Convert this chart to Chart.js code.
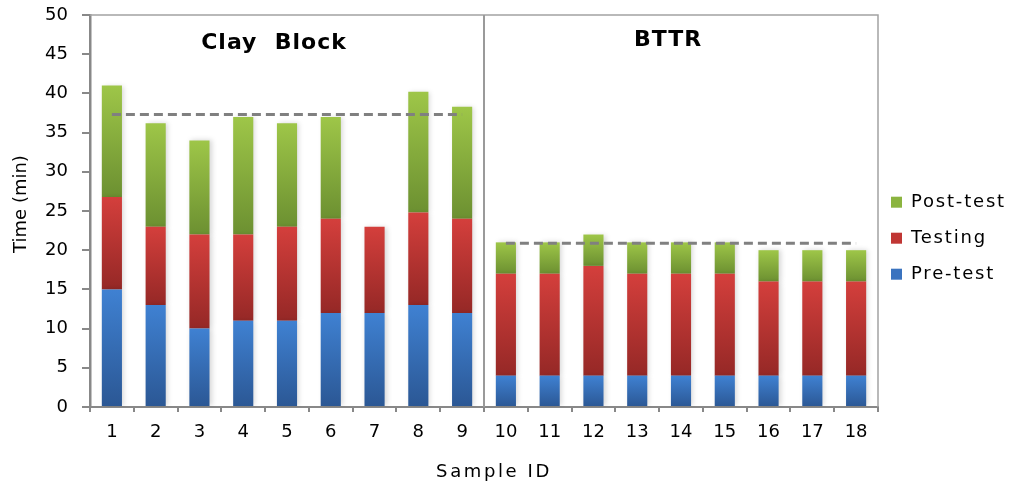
<!DOCTYPE html>
<html>
<head>
<meta charset="utf-8">
<title>Time per sample</title>
<script src="https://cdn.jsdelivr.net/npm/chart.js@4.4.1/dist/chart.umd.min.js"></script>
<style>
  body { margin: 0; background: #fff; }
  canvas { display: block; }
</style>
</head>
<body>
<canvas id="timeChart" width="1013" height="486"></canvas>
<script>
'use strict'

// Samples 1-9 are clay blocks, 10-18 are BTTR
const sampleIds = ['1', '2', '3', '4', '5', '6', '7', '8', '9',
  '10', '11', '12', '13', '14', '15', '16', '17', '18'];
const groupNames = ['Clay  Block', 'BTTR'];
const groupSizes = [9, 9];

// minutes spent in each phase
const preTest = [15, 13, 10, 11, 11, 12, 12, 13, 12, 4, 4, 4, 4, 4, 4, 4, 4, 4];
const testing = [11.8, 10, 12, 11, 12, 12, 11, 11.8, 12, 13, 13, 14, 13, 13, 13, 12, 12, 12];
const postTest = [14.2, 13.2, 12, 15, 13.2, 13, 0, 15.4, 14.3, 4, 4, 4, 4, 4, 4, 4, 4, 4];

// group means of the total time (dashed lines)
const clayMean = [37.3, 37.3, 37.3, 37.3, 37.3, 37.3, 37.3, 37.3, 37.3,
  null, null, null, null, null, null, null, null, null];
const bttrMean = [null, null, null, null, null, null, null, null, null,
  20.9, 20.9, 20.9, 20.9, 20.9, 20.9, 20.9, 20.9, 20.9];

const yMin = 0;
const yMax = 50;
const yStep = 5;

const stackedSeries = [preTest, testing, postTest];
const legendColors = ['#3a73bf', '#c03634', '#8bb43f'];

Chart.defaults.font.family = '"DejaVu Sans", Verdana, sans-serif';
Chart.defaults.color = '#000';

// vertical gradient for each bar segment, lighter at the top
function barGradient(light, dark) {
  return function (context) {
    const chart = context.chart;
    const yScale = chart.scales.y;
    if (context.type !== 'data' || !chart.chartArea || !yScale) {
      return dark;
    }
    const i = context.dataIndex;
    const level = context.datasetIndex;
    let base = 0;
    for (let s = 0; s < level; s++) {
      base += stackedSeries[s][i] || 0;
    }
    const top = base + (stackedSeries[level][i] || 0);
    const yTop = yScale.getPixelForValue(top);
    const yBottom = yScale.getPixelForValue(base);
    if (yBottom - yTop < 1) {
      return dark;
    }
    const gradient = chart.ctx.createLinearGradient(0, yTop, 0, yBottom);
    gradient.addColorStop(0, light);
    gradient.addColorStop(1, dark);
    return gradient;
  };
}

// run a draw/fit method with letter spacing and a small shift
function wrapText(target, method, spacing, dx, dy) {
  if (!target || target['_wrapped_' + method]) return;
  const original = target[method];
  target[method] = function () {
    const ctx = this.ctx;
    ctx.save();
    ctx.letterSpacing = spacing;
    ctx.translate(dx, dy);
    const result = original.apply(this, arguments);
    ctx.restore();
    return result;
  };
  target['_wrapped_' + method] = true;
}

const spacedText = {
  id: 'spacedText',
  beforeLayout(chart) {
    wrapText(chart.legend, 'fit', '1.8px', 0, 0);
    wrapText(chart.legend, 'draw', '1.8px', -5, 0);
    wrapText(chart.scales.x, 'drawTitle', '2.6px', 10, 0);
    wrapText(chart.scales.y, 'drawTitle', '0px', 0, -7);
  }
};

// soft shadow behind the bars
const barShadow = {
  id: 'barShadow',
  beforeDatasetDraw(chart, args) {
    if (args.meta.type !== 'bar') return;
    const ctx = chart.ctx;
    ctx.save();
    ctx.shadowColor = 'rgba(0, 0, 0, 0.16)';
    ctx.shadowBlur = 5;
    ctx.shadowOffsetX = 2;
  },
  afterDatasetDraw(chart, args) {
    if (args.meta.type !== 'bar') return;
    chart.ctx.restore();
  }
};

// plot frame, group divider and group titles
const groupFrame = {
  id: 'groupFrame',
  beforeDatasetsDraw(chart) {
    const ctx = chart.ctx;
    const area = chart.chartArea;
    const x = chart.scales.x;
    const half = (x.getPixelForValue(1) - x.getPixelForValue(0)) / 2;
    ctx.save();
    ctx.strokeStyle = '#a3a3a3';
    ctx.lineWidth = 1.5;
    ctx.beginPath();
    ctx.moveTo(area.left, area.top);
    ctx.lineTo(area.right, area.top);
    ctx.lineTo(area.right, area.bottom);
    ctx.stroke();

    let first = 0;
    groupSizes.forEach(function (size, g) {
      const left = x.getPixelForValue(first) - half;
      const right = x.getPixelForValue(first + size - 1) + half;
      if (g > 0) {
        ctx.strokeStyle = '#9a9a9a';
        ctx.lineWidth = 2;
        ctx.beginPath();
        ctx.moveTo(left, area.top);
        ctx.lineTo(left, area.bottom);
        ctx.stroke();
      }
      ctx.font = 'bold 22px "DejaVu Sans", Verdana, sans-serif';
      ctx.letterSpacing = '1px';
      ctx.fillStyle = '#000';
      ctx.textAlign = 'center';
      ctx.textBaseline = 'alphabetic';
      ctx.fillText(groupNames[g], (left + right) / 2 - 13, area.top + (g === 0 ? 34 : 31));
      first += size;
    });
    ctx.restore();
  }
};

const myCanvas = document.getElementById('timeChart');

const data = {
  labels: sampleIds,
  datasets: [{
    label: 'Pre-test',
    data: preTest,
    backgroundColor: barGradient('#3f81d2', '#2b5794'),
    order: 1
  },
  {
    label: 'Testing',
    data: testing,
    backgroundColor: barGradient('#d43f3c', '#952826'),
    order: 1
  },
  {
    label: 'Post-test',
    data: postTest,
    backgroundColor: barGradient('#9ec648', '#6c9031'),
    order: 1
  },
  {
    type: 'line',
    label: 'Clay mean',
    data: clayMean,
    stack: 'clayMean',
    borderColor: '#808080',
    borderWidth: 3,
    borderDash: [9, 5],
    pointRadius: 0,
    fill: false,
    order: 0
  },
  {
    type: 'line',
    label: 'BTTR mean',
    data: bttrMean,
    stack: 'bttrMean',
    borderColor: '#808080',
    borderWidth: 3,
    borderDash: [9, 5],
    pointRadius: 0,
    fill: false,
    order: 0
  }]
};

const config = {
  type: 'bar',
  data: data,
  options: {
    responsive: false,
    animation: false,
    events: [],
    barPercentage: 0.46,
    categoryPercentage: 1,
    layout: {
      padding: { top: 15, right: 0, bottom: 0, left: 0 }
    },
    plugins: {
      tooltip: { enabled: false },
      legend: {
        position: 'right',
        fullSize: false,
        reverse: true,
        maxWidth: 135,
        title: {
          display: true,
          text: '',
          font: { size: 12 },
          padding: 20
        },
        labels: {
          boxWidth: 11,
          boxHeight: 11,
          padding: 18,
          font: { size: 18 },
          color: '#000',
          filter: function (item) {
            return item.datasetIndex < 3;
          },
          generateLabels: function (chart) {
            const items = Chart.defaults.plugins.legend.labels.generateLabels(chart);
            items.forEach(function (item) {
              item.fillStyle = legendColors[item.datasetIndex];
              item.strokeStyle = legendColors[item.datasetIndex];
              item.lineWidth = 0;
            });
            return items;
          }
        }
      }
    },
    scales: {
      x: {
        stacked: true,
        border: { color: '#888', width: 2 },
        grid: { drawOnChartArea: false, offset: true, tickLength: 5, color: '#888', lineWidth: 2 },
        ticks: { font: { size: 18 }, padding: 10, maxRotation: 0, autoSkip: false },
        title: {
          display: true,
          text: 'Sample ID',
          font: { size: 18 },
          padding: { top: 0, bottom: 3 }
        },
        afterFit: function (scale) {
          scale.height = 79;
        }
      },
      y: {
        stacked: true,
        min: yMin,
        max: yMax,
        border: { color: '#888', width: 2.5 },
        grid: { drawOnChartArea: false, tickLength: 8, color: '#888', lineWidth: 2 },
        ticks: { stepSize: yStep, font: { size: 18 }, padding: 14 },
        title: {
          display: true,
          text: 'Time (min)',
          font: { size: 18 },
          padding: { top: 11, bottom: 0 }
        },
        afterFit: function (scale) {
          scale.width = 90;
          scale.paddingTop = 0;
          scale.paddingBottom = 0;
        }
      }
    }
  },
  plugins: [spacedText, barShadow, groupFrame]
};

const myChart = new Chart(myCanvas, config);
</script>
</body>
</html>
